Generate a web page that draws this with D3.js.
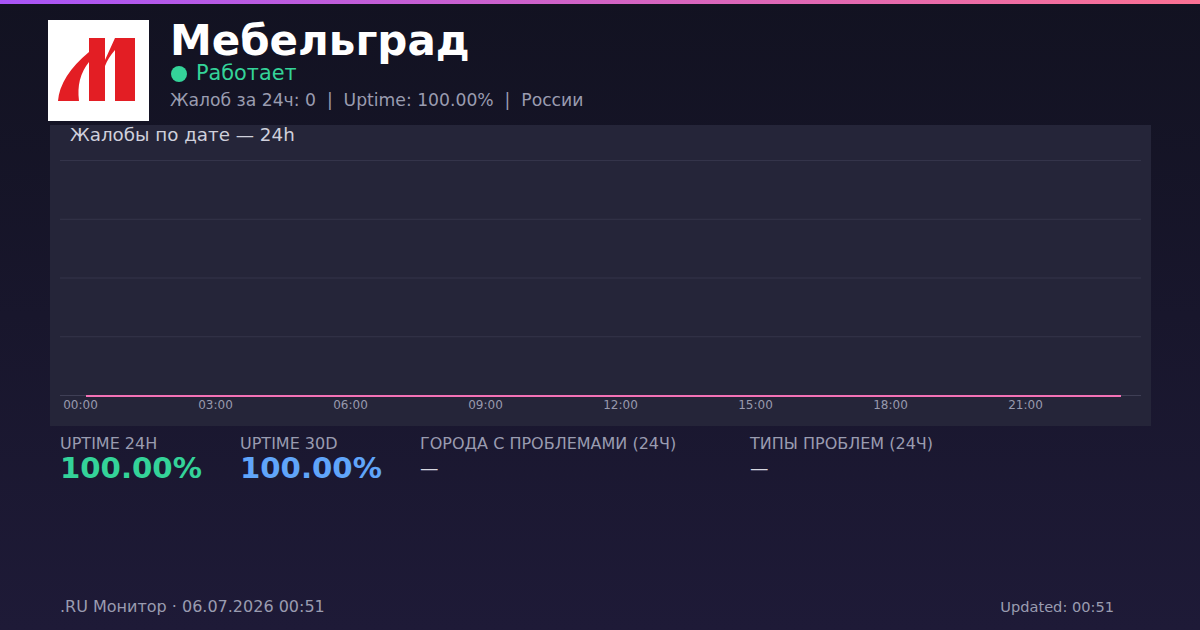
<!DOCTYPE html>
<html><head><meta charset="utf-8">
<script src="https://cdn.jsdelivr.net/npm/d3@7"></script>
<style>html,body{margin:0;padding:0;background:#131324;}svg{display:block;}</style>
</head><body>
<svg id="c" width="1200" height="630"></svg>
<script>
// Data
const hours = ["00:08","01:08","02:08","03:08","04:08","05:08","06:08","07:08","08:08","09:08","10:08","11:08","12:08","13:08","14:08","15:08","16:08","17:08","18:08","19:08","20:08","21:08","22:08","23:08"];
const complaints = [0,0,0,0,0,0,0,0,0,0,0,0,0,0,0,0,0,0,0,0,0,0,0,0];
const tickLabels = ["00:00","03:00","06:00","09:00","12:00","15:00","18:00","21:00"];
const yTicks = [0,1,2,3,4];
const statLabels = ["UPTIME 24H","UPTIME 30D","ГОРОДА С ПРОБЛЕМАМИ (24Ч)","ТИПЫ ПРОБЛЕМ (24Ч)"];
const statValues = ["100.00%","100.00%","—","—"];

const F = "DejaVu Sans, sans-serif";
const svg = d3.select("#c");
const defs = svg.append("defs");
const bg = defs.append("linearGradient").attr("id","bg").attr("x1",0).attr("y1",0).attr("x2",0).attr("y2",1);
bg.append("stop").attr("offset","0%").attr("stop-color","#121221");
bg.append("stop").attr("offset","100%").attr("stop-color","#1e1a37");
const tb = defs.append("linearGradient").attr("id","tb").attr("x1",0).attr("y1",0).attr("x2",1).attr("y2",0);
tb.append("stop").attr("offset","0%").attr("stop-color","#a855f7");
tb.append("stop").attr("offset","100%").attr("stop-color","#fb7193");

svg.append("rect").attr("width",1200).attr("height",630).attr("fill","url(#bg)");
svg.append("rect").attr("width",1200).attr("height",4).attr("fill","url(#tb)");

// Logo
const lg = svg.append("g").attr("transform","translate(48,20)");
lg.append("rect").attr("width",101).attr("height",101).attr("fill","#ffffff");
const red = "#e31e24";
lg.append("rect").attr("x",41).attr("y",18).attr("width",16).attr("height",63).attr("fill",red);
lg.append("rect").attr("x",67).attr("y",18).attr("width",20).attr("height",63).attr("fill",red);
lg.append("path").attr("d","M57,40 L67,18 L67,30 Q60,38 57,46 Z").attr("fill",red);
lg.append("path").attr("d","M10,81 Q12,56 41,32 L41,42 Q28,58 31,81 Z").attr("fill",red);

// Header
svg.append("text").attr("x",170).attr("y",55).attr("font-family",F).attr("font-weight","bold").attr("font-size",42).attr("fill","#ffffff").text("Мебельград");
svg.append("circle").attr("cx",179).attr("cy",74).attr("r",8).attr("fill","#34d399");
svg.append("text").attr("x",196).attr("y",80).attr("font-family",F).attr("font-size",20.8).attr("fill","#34d399").text("Работает");
svg.append("text").attr("x",170).attr("y",106).attr("font-family",F).attr("font-size",17.2).attr("fill","#9a9cb0").attr("xml:space","preserve")
  .text("Жалоб за 24ч: 0  |  Uptime: 100.00%  |  России");

// Chart panel
svg.append("rect").attr("x",50).attr("y",125).attr("width",1101).attr("height",301).attr("fill","#252539");
svg.append("text").attr("x",70).attr("y",141).attr("font-family",F).attr("font-size",18.3).attr("fill","#cfd0dc").text("Жалобы по дате — 24h");

const parse = s => { const [h,m] = s.split(":").map(Number); return h + m/60; };
const x = d3.scaleLinear().domain([-20/45, 1081/45 - 20/45]).range([60,1141]);
const y = d3.scaleLinear().domain([0,4]).range([395,160]);

const grid = svg.append("g");
grid.selectAll("line").data(yTicks).join("line")
  .attr("x1",60).attr("x2",1141).attr("y1",d=>y(d)+0.5).attr("y2",d=>y(d)+0.5)
  .attr("stroke", d=> d===0 ? "#3f3f55" : "#34344a").attr("stroke-width",1);

const xAxis = d3.axisBottom(x).tickValues(tickLabels.map(parse)).tickFormat((d,i)=>tickLabels[i]).tickSize(0).tickPadding(0);
const ax = svg.append("g").attr("transform","translate(0,400)").call(xAxis);
ax.select(".domain").remove();
ax.selectAll("text").attr("font-family",F).attr("font-size",12).attr("fill","#9899ad").attr("dy","0.71em");

const line = d3.line().x((d,i)=>x(parse(hours[i]))).y(d=>y(d)+1);
svg.append("path").datum(complaints).attr("d",line).attr("fill","none").attr("stroke","#f472b6").attr("stroke-width",2);

// Stats
const statX = [60,240,420,750];
const statColors = ["#34d399","#60a5fa","#d6d7e0","#d6d7e0"];
statLabels.forEach((l,i)=>{
  svg.append("text").attr("x",statX[i]).attr("y",448.5).attr("font-family",F).attr("font-size",16).attr("fill","#9a9cb0").text(l);
  const big = i<2;
  svg.append("text").attr("x",statX[i]).attr("y",big?477.5:474).attr("font-family",F).attr("font-weight",big?"bold":"normal")
    .attr("font-size",big?29.2:18.5).attr("fill",statColors[i]).text(statValues[i]);
});

// Footer
svg.append("text").attr("x",60).attr("y",612).attr("font-family",F).attr("font-size",16).attr("fill","#9a9cb0").text(".RU Монитор · 06.07.2026 00:51");
svg.append("text").attr("x",1114).attr("y",612).attr("text-anchor","end").attr("font-family",F).attr("font-size",14.6).attr("fill","#9a9cb0").text("Updated: 00:51");
</script>
</body></html>
